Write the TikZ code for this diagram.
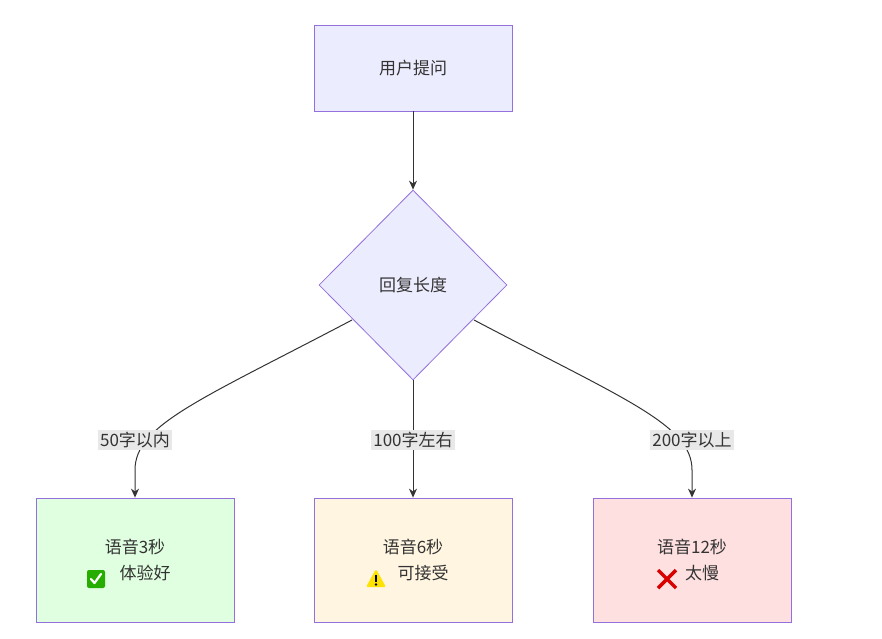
\documentclass[tikz,border=0pt]{standalone}
\usepackage{fontspec}
\setmainfont{Noto Sans CJK SC}
\usetikzlibrary{shapes.geometric,arrows.meta}
\begin{document}
\begin{tikzpicture}[x=1pt,y=-1pt,
  box/.style={draw=purple!50!blue!60, line width=0.8pt, minimum width=198pt, minimum height=86pt, align=center, font=\fontsize{17}{26}\selectfont, text=black!80},
  res/.style={box, minimum height=124pt},
  lab/.style={fill=black!9, inner sep=2pt, font=\fontsize{17}{20}\selectfont, text=black!80},
  conn/.style={draw=black!80, line width=1pt, -{Stealth[length=9pt,width=8pt]}}]
\definecolor{pur}{HTML}{9370DB}
\useasboundingbox (0,0) rectangle (882,638);
\node[box, draw=pur, fill={rgb,255:red,236;green,236;blue,255}] (q) at (413,68) {用户提问};
\node[diamond, draw=pur, line width=0.8pt, fill={rgb,255:red,236;green,236;blue,255}, minimum width=188pt, minimum height=190pt, inner sep=0pt, font=\fontsize{17}{20}\selectfont, text=black!80] (d) at (413,285) {回复长度};
\node[res, draw=pur, fill={rgb,255:red,224;green,255;blue,224}] (a) at (135,560) {语音3秒\\\hphantom{\rule{20pt}{1pt}}体验好};
\node[res, draw=pur, fill={rgb,255:red,255;green,245;blue,225}] (b) at (413,560) {语音6秒\\\hphantom{\rule{20pt}{1pt}}可接受};
\node[res, draw=pur, fill={rgb,255:red,255;green,224;blue,224}] (c) at (692,560) {语音12秒\\\hphantom{\rule{20pt}{1pt}}太慢};
% icons
\begin{scope}[shift={(96,579)}]
\fill[green!60!black!80!lime, rounded corners=2pt] (-9,-9) rectangle (9,9);
\draw[white, line width=2.2pt, line cap=round, line join=round] (-5,0) -- (-1.5,4) -- (5,-5);
\end{scope}
\begin{scope}[shift={(376,579)}]
\fill[yellow!85!orange, rounded corners=1.5pt] (0,-10) -- (10,8) -- (-10,8) -- cycle;
\fill[black] (-1.2,-4) rectangle (1.2,3);
\fill[black] (0,5.5) circle (1.3);
\end{scope}
\begin{scope}[shift={(667,579)}]
\draw[red!85!black, line width=3.5pt] (-9,-9) -- (9,9) (-9,9) -- (9,-9);
\end{scope}
\draw[conn] (q) -- (d);
\draw[conn] (d.south) -- (b.north);
\draw[conn] (352,320) .. controls (200,400) and (135,425) .. (135,470) -- (a.north);
\draw[conn] (474,320) .. controls (626,400) and (692,425) .. (692,470) -- (c.north);
\node[lab] (la) at (135,440) {50字以内};
\node[lab] (lb) at (413,440) {100字左右};
\node[lab] (lc) at (692,440) {200字以上};
\end{tikzpicture}
\end{document}
